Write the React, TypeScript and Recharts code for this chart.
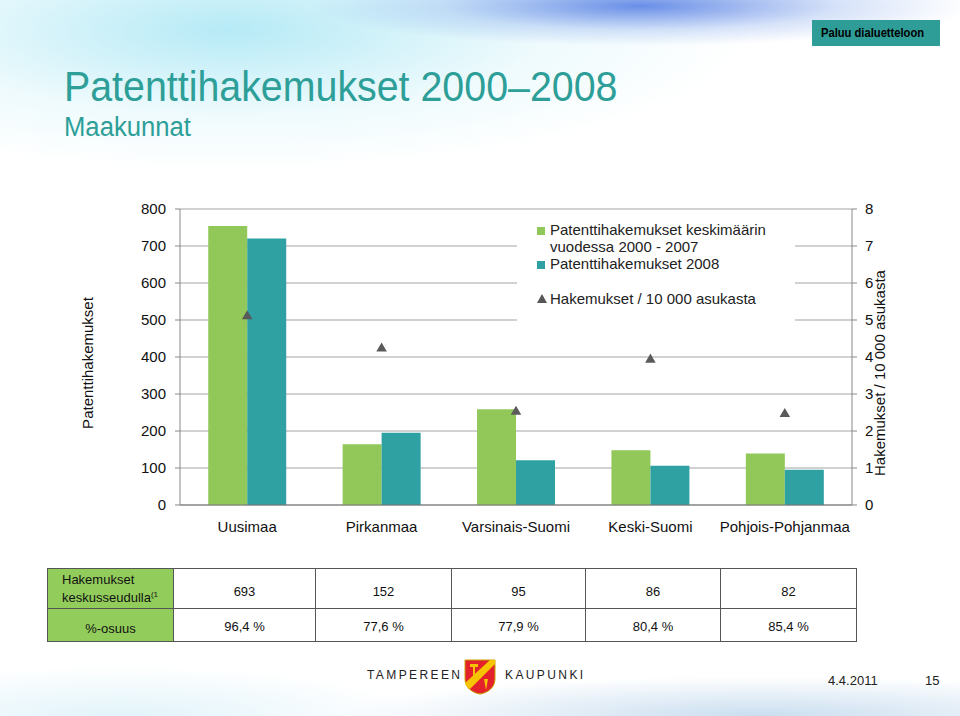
import React from "react";
import {
  Bar,
  CartesianGrid,
  ComposedChart,
  Legend,
  Scatter,
  XAxis,
  YAxis,
  ZAxis,
} from "recharts";

const regions = ["Uusimaa", "Pirkanmaa", "Varsinais-Suomi", "Keski-Suomi", "Pohjois-Pohjanmaa"];
const avg2000to2007 = [754, 164, 259, 148, 139];
const apps2008 = [720, 195, 121, 106, 95];
const perTenThousand = [5.1, 4.23, 2.52, 3.93, 2.46];

const leftTicks = [0, 100, 200, 300, 400, 500, 600, 700, 800];
const rightTicks = [0, 1, 2, 3, 4, 5, 6, 7, 8];
const edgeTicks = [0, 1, 2, 3, 4, 5];

const centralAreaApps = [693, 152, 95, 86, 82];
const centralAreaShare = ["96,4 %", "77,6 %", "77,9 %", "80,4 %", "85,4 %"];

const seriesNames = [
  "Patenttihakemukset keskimäärin vuodessa 2000 - 2007",
  "Patenttihakemukset 2008",
  "Hakemukset / 10 000 asukasta",
];

const GREEN = "#92c85a";
const TEAL = "#2fa1a2";
const TITLE = "#2d9f98";

const data = regions.map((name, i) => ({
  name,
  avg: avg2000to2007[i],
  y2008: apps2008[i],
  per: perTenThousand[i],
}));

const sans = "'Liberation Sans', Arial, sans-serif";

function ChartLegend() {
  const row: React.CSSProperties = { display: "flex", alignItems: "flex-start" };
  const sq = (c: string): React.CSSProperties => ({
    width: 8,
    height: 8,
    background: c,
    marginTop: 6,
    marginRight: 5,
    flex: "none",
  });
  return (
    <div style={{ fontFamily: sans, fontSize: 15, lineHeight: "17px", color: "#222", padding: "6px 0 0 20px" }}>
      <div style={row}>
        <span style={sq(GREEN)} />
        <span style={{ width: 240 }}>{seriesNames[0]}</span>
      </div>
      <div style={row}>
        <span style={sq(TEAL)} />
        <span>{seriesNames[1]}</span>
      </div>
      <div style={{ ...row, marginTop: 18 }}>
        <svg width={10} height={10} style={{ marginTop: 4, marginRight: 3, flex: "none" }}>
          <polygon points="5,0 10,9 0,9" fill="#555" />
        </svg>
        <span>{seriesNames[2]}</span>
      </div>
    </div>
  );
}

function Shield() {
  return (
    <svg width={32} height={36} viewBox="0 0 32 36">
      <path d="M1 1 H31 V20 C31 29 23 34 16 35 C9 34 1 29 1 20 Z" fill="#e3222b" stroke="#c9a000" strokeWidth={1} />
      <path d="M1 24 L26 1 H31 V5 L6 30 C3 28 1 26 1 24 Z" fill="#f6c400" />
      <rect x={6} y={5} width={8} height={3} fill="#f6c400" />
      <rect x={9} y={7} width={2} height={10} fill="#f6c400" />
      <path d="M20 20 L24 20 L22 31 Z" fill="#f6c400" />
    </svg>
  );
}

export default function App() {
  const cell: React.CSSProperties = {
    border: "1.5px solid #555",
    textAlign: "center",
    fontFamily: sans,
    fontSize: 13,
    color: "#111",
    padding: 0,
  };
  const head: React.CSSProperties = { ...cell, background: "#92cd5c" };
  return (
    <div
      style={{
        position: "absolute",
        left: 0,
        top: 0,
        width: 960,
        height: 716,
        overflow: "hidden",
        background:
          "radial-gradient(ellipse 330px 40px at 640px 6px, rgba(70,115,225,0.8), rgba(120,160,235,0.3) 60%, rgba(255,255,255,0) 100%)," +
          "radial-gradient(ellipse 520px 140px at 230px 30px, rgba(150,225,242,0.7), rgba(200,240,248,0.3) 60%, rgba(255,255,255,0) 100%)," +
          "radial-gradient(ellipse 420px 40px at 760px 716px, rgba(150,190,225,0.5), rgba(255,255,255,0) 100%)," +
          "radial-gradient(ellipse 300px 50px at 120px 716px, rgba(190,230,245,0.45), rgba(255,255,255,0) 100%)," +
          "#fff",
      }}
    >
      <div
        style={{
          position: "absolute",
          left: 812,
          top: 20,
          width: 128,
          height: 26,
          background: "#2e9c97",
        }}
      />
      <div
        style={{
          position: "absolute",
          left: 821,
          top: 20,
          color: "#000",
          fontFamily: sans,
          fontWeight: "bold",
          fontSize: 13,
          lineHeight: "26px",
          whiteSpace: "nowrap",
          transform: "scaleX(0.86)",
          transformOrigin: "0 0",
        }}
      >
        Paluu dialuetteloon
      </div>
      <div
        style={{
          position: "absolute",
          left: 64,
          top: 62,
          fontFamily: sans,
          fontSize: 43,
          color: TITLE,
          lineHeight: "48px",
          whiteSpace: "nowrap",
          transform: "scaleX(0.915)",
          transformOrigin: "0 0",
        }}
      >
        Patenttihakemukset 2000–2008
      </div>
      <div
        style={{
          position: "absolute",
          left: 64,
          top: 111,
          fontFamily: sans,
          fontSize: 27,
          color: TITLE,
          lineHeight: "32px",
          whiteSpace: "nowrap",
          transform: "scaleX(0.95)",
          transformOrigin: "0 0",
        }}
      >
        Maakunnat
      </div>

      <div style={{ position: "absolute", left: 0, top: 0 }}>
        <ComposedChart
          width={960}
          height={560}
          data={data}
          margin={{ top: 209, right: 58, bottom: 25, left: 80 }}
          barGap={0}
          barCategoryGap="21%"
        >
          <CartesianGrid yAxisId="left" vertical={false} stroke="#a3a3a3" strokeWidth={1.2} />
          <XAxis
            xAxisId="edges"
            type="number"
            domain={[0, 5]}
            ticks={edgeTicks}
            tick={false}
            axisLine={false}
            tickLine={{ stroke: "#888" }}
            tickSize={6}
            height={0}
          />
          <XAxis
            dataKey="name"
            tickLine={false}
            axisLine={{ stroke: "#777", strokeWidth: 1.2 }}
            tick={{ fontFamily: sans, fontSize: 15, fill: "#111" }}
            tickMargin={10}
            height={30}
            interval={0}
          />
          <YAxis
            yAxisId="left"
            domain={[0, 800]}
            ticks={leftTicks}
            width={100}
            axisLine={{ stroke: "#888" }}
            tickLine={{ stroke: "#888" }}
            tickSize={5}
            tickMargin={9}
            tick={{ fontFamily: sans, fontSize: 15, fill: "#111" }}
            label={{
              value: "Patenttihakemukset",
              angle: -90,
              position: "insideLeft",
              offset: 8,
              style: { textAnchor: "middle", fontFamily: sans, fontSize: 15, fill: "#111" },
              dy: 6,
            }}
          />
          <YAxis
            yAxisId="right"
            orientation="right"
            domain={[0, 8]}
            ticks={rightTicks}
            width={50}
            axisLine={{ stroke: "#888" }}
            tickLine={{ stroke: "#888" }}
            tickSize={5}
            tickMargin={8}
            tick={{ fontFamily: sans, fontSize: 15, fill: "#111" }}
            label={(props: any) => {
              const vb = props.viewBox || {};
              const x = vb.x + 27;
              const y = vb.y + vb.height / 2 + 16;
              return (
                <text
                  x={x}
                  y={y}
                  transform={`rotate(-90, ${x}, ${y})`}
                  textAnchor="middle"
                  dominantBaseline="central"
                  fontFamily={sans}
                  fontSize={15}
                  fill="#111"
                >
                  Hakemukset / 10 000 asukasta
                </text>
              );
            }}
          />
          <ZAxis range={[48, 48]} />
          <Bar yAxisId="left" dataKey="avg" name={seriesNames[0]} fill={GREEN} isAnimationActive={false} />
          <Bar yAxisId="left" dataKey="y2008" name={seriesNames[1]} fill={TEAL} isAnimationActive={false} />
          <Scatter yAxisId="right" dataKey="per" name={seriesNames[2]} fill="#5a5a5a" shape="triangle" isAnimationActive={false} />
          <Legend
            layout="vertical"
            align="center"
            verticalAlign="middle"
            content={() => <ChartLegend />}
            wrapperStyle={{ left: 517, top: 215, width: 278, height: 114, background: "#fff" }}
          />
        </ComposedChart>
      </div>

      <table
        style={{
          position: "absolute",
          left: 47,
          top: 568,
          width: 809,
          height: 73,
          borderCollapse: "collapse",
          tableLayout: "fixed",
        }}
      >
        <colgroup>
          <col style={{ width: 126 }} />
          <col style={{ width: 142 }} />
          <col style={{ width: 136 }} />
          <col style={{ width: 134 }} />
          <col style={{ width: 135 }} />
          <col style={{ width: 136 }} />
        </colgroup>
        <tbody>
          <tr style={{ height: 40 }}>
            <td style={{ ...head, textAlign: "left", paddingLeft: 14, lineHeight: "15px" }}>
              Hakemukset
              <br />
              keskusseudulla<sup style={{ fontSize: 8 }}>(1</sup>
            </td>
            {centralAreaApps.map((v, i) => (
              <td key={i} style={{ ...cell, paddingTop: 6 }}>
                {v}
              </td>
            ))}
          </tr>
          <tr style={{ height: 33 }}>
            <td style={{ ...head, paddingTop: 6 }}>%-osuus</td>
            {centralAreaShare.map((v, i) => (
              <td key={i} style={{ ...cell, paddingTop: 2 }}>
                {v}
              </td>
            ))}
          </tr>
        </tbody>
      </table>

      <div
        style={{
          position: "absolute",
          left: 367,
          top: 668,
          fontFamily: sans,
          fontSize: 12,
          letterSpacing: 2.4,
          color: "#222",
        }}
      >
        TAMPEREEN
      </div>
      <div style={{ position: "absolute", left: 464, top: 659 }}>
        <Shield />
      </div>
      <div
        style={{
          position: "absolute",
          left: 505,
          top: 668,
          fontFamily: sans,
          fontSize: 12,
          letterSpacing: 2.4,
          color: "#222",
        }}
      >
        KAUPUNKI
      </div>
      <div style={{ position: "absolute", left: 828, top: 673, fontFamily: sans, fontSize: 13, color: "#222" }}>4.4.2011</div>
      <div style={{ position: "absolute", left: 925, top: 673, fontFamily: sans, fontSize: 13, color: "#222" }}>15</div>
    </div>
  );
}
